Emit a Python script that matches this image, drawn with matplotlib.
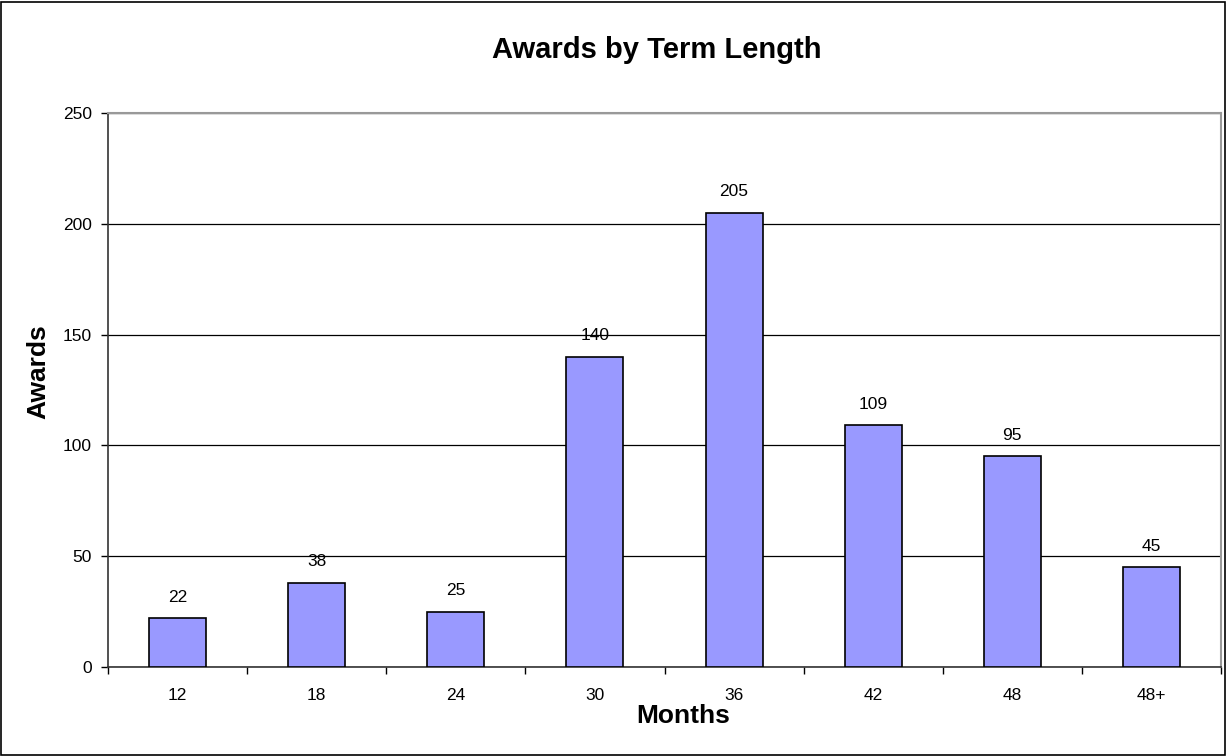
import matplotlib
matplotlib.use('Agg')
from matplotlib import pyplot as plt
import numpy as np

plt.rcParams['font.family'] = ['Liberation Sans', 'DejaVu Sans']

months = ['12', '18', '24', '30', '36', '42', '48', '48+']
awards = [22, 38, 25, 140, 205, 109, 95, 45]
y_ticks = [0, 50, 100, 150, 200, 250]

W, H = 1227, 756
fig = plt.figure(figsize=(W / 100, H / 100), dpi=100)
# plot area in pixels: left 108, right 1221, top 113, bottom 667
ax = fig.add_axes([108 / W, 1 - 667 / H, (1221 - 108) / W, (667 - 113) / H])

x = np.arange(len(months))
bars = ax.bar(x, awards, width=0.41, color='#9999FF', edgecolor='black', linewidth=1.2, zorder=3)

for xi, v in zip(x, awards):
    ax.text(xi, v + 6, str(v), ha='center', va='bottom', fontsize=12.5)

ax.set_xlim(-0.5, len(months) - 0.5)
ax.set_ylim(0, 250)
ax.set_yticks(y_ticks)
ax.set_yticklabels([str(t) for t in y_ticks], fontsize=12.5)
ax.yaxis.grid(True, color='black', linewidth=0.9, zorder=0)
ax.tick_params(axis='y', length=5, width=1, pad=6.5)

# category labels without ticks, ticks at category boundaries
ax.set_xticks(x)
ax.set_xticklabels(months, fontsize=12.5)
ax.tick_params(axis='x', which='major', length=0, pad=15)
ax.set_xticks(np.arange(len(months) + 1) - 0.5, minor=True)
ax.tick_params(axis='x', which='minor', length=5, width=1, direction='out')

for s in ['left', 'bottom']:
    ax.spines[s].set_color('#333333')
    ax.spines[s].set_linewidth(1.2)
for s in ['top', 'right']:
    ax.spines[s].set_color('#999999')
    ax.spines[s].set_linewidth(1.5)

fig.text(657 / W, 1 - 50 / H, 'Awards by Term Length', ha='center', va='center',
         fontsize=21, fontweight='bold')
fig.text(683 / W, 1 - 716 / H, 'Months', ha='center', va='center',
         fontsize=19, fontweight='bold')
fig.text(38 / W, 1 - 372 / H, 'Awards', ha='center', va='center', rotation=90,
         fontsize=19, fontweight='bold')

# outer chart border
fig.patches.append(plt.Rectangle((1 / W, 1 / H), 1 - 3 / W, 1 - 3 / H, transform=fig.transFigure,
                                 fill=False, edgecolor='black', linewidth=1.2))

plt.savefig('out.png', dpi=100)
